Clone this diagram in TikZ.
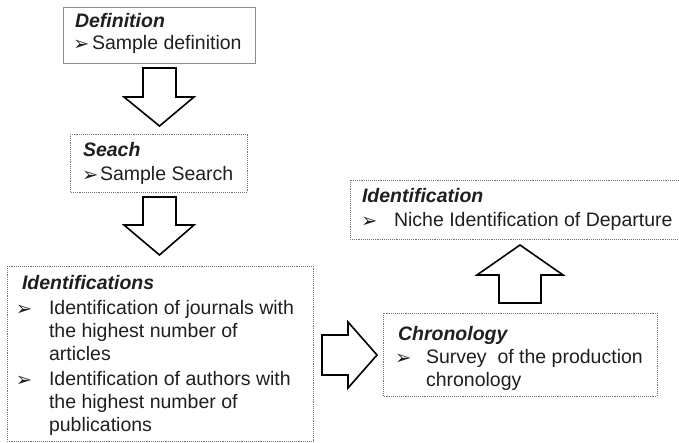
\documentclass[tikz,border=0pt]{standalone}
\usepackage{fontspec}
\setmainfont{Liberation Sans}
\newfontfamily\bulletfont{DejaVu Sans}
\begin{document}
\begin{tikzpicture}[x=1pt,y=-1pt,
  every node/.style={inner sep=0pt,outer sep=0pt,text=black!88},
  txt/.style={anchor=base west,font=\fontsize{19.5}{23}\selectfont},
  head/.style={txt,font=\fontsize{19.5}{23}\selectfont\bfseries\itshape},
  bul/.style={anchor=base west,font=\bulletfont\fontsize{19.5}{22}\selectfont},
  solidbox/.style={draw=black!45,line width=0.9pt},
  dotbox/.style={draw=black!55,line width=0.9pt,densely dotted},
  blockarrow/.style={draw=black,line width=1.6pt,fill=white,line join=miter}]
\useasboundingbox (0,0) rectangle (679,443);
\begin{scope}
\clip (0,0) rectangle (679,443);

% boxes
\draw[solidbox] (63,7) rectangle (255,63);
\draw[dotbox] (70,134) rectangle (247,192);
\draw[dotbox] (7,266) rectangle (313,441);
\draw[dotbox] (383,313) rectangle (657,396);
\draw[dotbox] (350,180) rectangle (690,239);

% Definition
\node[head] (defh) at (75,28) {Definition};
\node[bul] (defb) at (73,51) {➢};
\node[txt] (deft) at (92,50) {Sample definition};

% Search
\node[head] (seah) at (83,157) {Seach};
\node[bul] (seab) at (82,182) {➢};
\node[txt] (seat) at (100,181) {Sample Search};

% Identifications
\node[head] (idsh) at (22,290) {Identifications};
\node[bul] (idsb1) at (16,315) {➢};
\node[txt] (idst1) at (49,314) {Identification of journals with};
\node[txt] (idst2) at (49,337) {the highest number of};
\node[txt] (idst3) at (49,360) {articles};
\node[bul] (idsb2) at (16,386) {➢};
\node[txt] (idst4) at (49,385) {Identification of authors with};
\node[txt] (idst5) at (49,408) {the highest number of};
\node[txt] (idst6) at (49,431) {publications};

% Identification
\node[head] (idh) at (362,203) {Identification};
\node[bul] (idb) at (361,228) {➢};
\node[txt] (idt) at (394,227) {Niche Identification of Departure};

% Chronology
\node[head] (chh) at (398,340) {Chronology};
\node[bul] (chb) at (395,364) {➢};
\node[txt] (cht1) at (426,363) {Survey\ \ of the production};
\node[txt] (cht2) at (426,386) {chronology};

% block arrows
\draw[blockarrow] (143,68) -- (176,68) -- (176,97) -- (194,97) -- (159.5,126)
  -- (124,97) -- (143,97) -- cycle;
\draw[blockarrow] (143,197) -- (176,197) -- (176,225) -- (194,225) -- (159.5,255)
  -- (124,225) -- (143,225) -- cycle;
\draw[blockarrow] (322,335) -- (348,335) -- (348,322) -- (377,355) -- (348,388)
  -- (348,375) -- (322,375) -- cycle;
\draw[blockarrow] (499,303) -- (499,275) -- (477,275) -- (520,245) -- (563,275)
  -- (541,275) -- (541,303) -- cycle;
\end{scope}
\end{tikzpicture}
\end{document}
